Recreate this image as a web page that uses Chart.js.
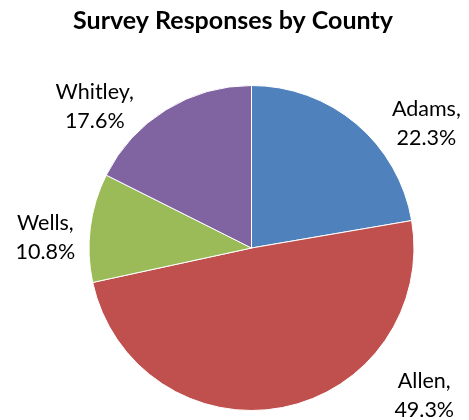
<!doctype html>
<html lang="en">
  <head>
    <meta charset="utf-8">
    <title>Survey Responses by County</title>
    <script src="https://cdn.jsdelivr.net/npm/chart.js@4/dist/chart.umd.min.js"></script>
    <style>
      html, body { margin: 0; padding: 0; background: #fff; }
      #wrap { width: 469px; height: 420px; }
    </style>
  </head>
  <body>
    <div id="wrap"><canvas id="countyPie"></canvas></div>

    <script>
    // data
    var counties = ["Adams", "Allen", "Wells", "Whitley"];
    var percents = [22.3, 49.3, 10.8, 17.6];
    var sliceColors = ["#4F81BD", "#C0504D", "#9BBB59", "#8064A2"];

    var chartTitle = "Survey Responses by County";

    // where excel put each label: angle (deg, clockwise from 3 o'clock) and distance in radii
    var labelAngle = [-35.4, 40.6, 182.8, 222.1];
    var labelDist = [1.32, 1.40, 1.27, 1.30];

    var labelPlugin = {
      id: 'pieLabels',
      afterDraw: function (chart) {
        var ctx = chart.ctx;
        ctx.save();
        ctx.fillStyle = '#000';
        ctx.textAlign = 'center';
        ctx.textBaseline = 'middle';

        // title
        ctx.font = 'bold 25px Lato';
        ctx.fillText(chartTitle, 233, 21);

        // slice labels
        ctx.font = '21.5px Lato';
        var meta = chart.getDatasetMeta(0);
        meta.data.forEach(function (arc, i) {
          var a = labelAngle[i] * Math.PI / 180;
          var d = arc.outerRadius * labelDist[i];
          var x = arc.x + Math.cos(a) * d;
          var y = arc.y + Math.sin(a) * d;
          ctx.fillText(counties[i] + ',', x, y - 14.5);
          ctx.fillText(percents[i].toFixed(1) + '%', x, y + 14.5);
        });
        ctx.restore();
      }
    };

    var ctx = document.getElementById("countyPie");
    var myChart = new Chart(ctx, {
      type: 'pie',
      data: {
        labels: counties,
        datasets: [{
          data: percents,
          backgroundColor: sliceColors,
          borderColor: '#ffffff',
          borderWidth: 1
        }]
      },
      options: {
        responsive: true,
        maintainAspectRatio: false,
        animation: false,
        events: [],
        layout: {
          padding: { top: 85, bottom: 9, left: 88, right: 54 }
        },
        plugins: {
          legend: { display: false },
          title: { display: false },
          tooltip: { enabled: false }
        }
      },
      plugins: [labelPlugin]
    });
    </script>
  </body>
</html>
